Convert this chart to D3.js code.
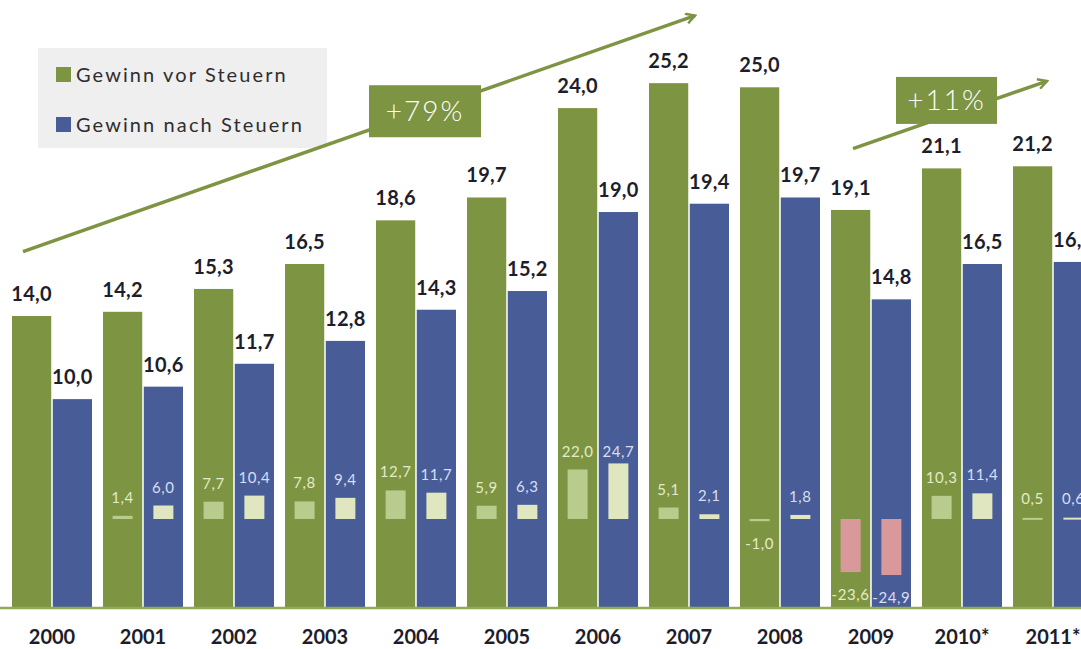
<!DOCTYPE html>
<html>
<head>
<meta charset="utf-8">
<script src="https://cdn.jsdelivr.net/npm/d3@7"></script>
<style>
  body { margin: 0; background: #fff; }
  text { font-family: Lato, "Open Sans", sans-serif; }
  .value { font-weight: 700; font-size: 20px; fill: #1d1d2b; letter-spacing: 0.3px; }
  .year { font-weight: 700; font-size: 20px; fill: #1d1d2b; }
  .change { font-size: 15px; letter-spacing: 0.6px; }
  .legend { font-size: 20px; fill: #2e2e2e; letter-spacing: 2.1px; }
  .badge { font-size: 28px; fill: #fff; letter-spacing: 2px; font-weight: 300; }
</style>
</head>
<body>
<div id="chart"></div>
<script>
// data
const years = ["2000", "2001", "2002", "2003", "2004", "2005", "2006", "2007", "2008", "2009", "2010*", "2011*"];
const vorSteuern = [14.0, 14.2, 15.3, 16.5, 18.6, 19.7, 24.0, 25.2, 25.0, 19.1, 21.1, 21.2];
const nachSteuern = [10.0, 10.6, 11.7, 12.8, 14.3, 15.2, 19.0, 19.4, 19.7, 14.8, 16.5, 16.6];
// change vs. previous year in %
const vorChange = [null, 1.4, 7.7, 7.8, 12.7, 5.9, 22.0, 5.1, -1.0, -23.6, 10.3, 0.5];
const nachChange = [null, 6.0, 10.4, 9.4, 11.7, 6.3, 24.7, 2.1, 1.8, -24.9, 11.4, 0.6];
const seriesNames = ["Gewinn vor Steuern", "Gewinn nach Steuern"];

const width = 1081, height = 649;
const colors = {vor: "#7d9443", nach: "#485d98"};
const changeColors = {vor: "#b9cc8e", nach: "#dfe6c0", neg: "#d9999b"};
const changeText = {vor: "#e4ebc6", nach: "#d8def2"};

const de = d3.formatLocale({decimal: ",", thousands: ".", grouping: [3], currency: ["", " €"], minus: "-"});
const fmt = de.format(".1f");

const data = years.map(function(y, i) {
    return {year: y, vor: vorSteuern[i], nach: nachSteuern[i], vorC: vorChange[i], nachC: nachChange[i]};
});

const svg = d3.select("#chart")
    .append("svg")
        .attr("width", width)
        .attr("height", height);

// scales
const x = d3.scaleBand()
    .domain(years)
    .range([12, 1093])
    .paddingInner(11 / 91)
    .paddingOuter(0);
const xs = d3.scaleBand()
    .domain(["vor", "nach"])
    .range([0, x.bandwidth()])
    .paddingInner(3 / 80);
const y = d3.scaleLinear()
    .domain([0, 29.2])
    .range([607, 0]);
// small change bars on their own baseline
const yc = d3.scaleLinear()
    .domain([-40, 40])
    .range([609, 429]);

// legend box
const legend = svg.append("g");
legend.append("rect")
    .attr("x", 38).attr("y", 48)
    .attr("width", 289).attr("height", 100)
    .attr("fill", "#efefef");
const legendItem = legend.selectAll(".item")
    .data(seriesNames)
    .enter()
    .append("g")
        .attr("transform", function(d, i) { return `translate(56, ${67 + i * 50})`; });
legendItem.append("rect")
    .attr("width", 15).attr("height", 15)
    .attr("fill", function(d, i) { return i === 0 ? colors.vor : colors.nach; });
legendItem.append("text")
    .attr("class", "legend")
    .attr("x", 20).attr("y", 15)
    .text(function(d) { return d; });

// main bars
const group = svg.selectAll(".year-group")
    .data(data)
    .enter()
    .append("g")
        .attr("transform", function(d) { return `translate(${x(d.year)}, 0)`; });

["vor", "nach"].forEach(function(key) {
    group.append("rect")
        .attr("x", xs(key))
        .attr("y", function(d) { return y(d[key]); })
        .attr("width", xs.bandwidth())
        .attr("height", function(d) { return y(0) - y(d[key]); })
        .attr("fill", colors[key]);

    group.append("text")
        .attr("class", "value")
        .attr("x", xs(key) + xs.bandwidth() / 2)
        .attr("y", function(d) { return y(d[key]) - 15; })
        .attr("text-anchor", "middle")
        .text(function(d) { return fmt(d[key]); });

    // change bars
    const cw = 20;
    const ck = key + "C";
    const withChange = group.filter(function(d) { return d[ck] !== null; });
    withChange.append("rect")
        .attr("x", xs(key) + (xs.bandwidth() - cw) / 2)
        .attr("y", function(d) { return Math.min(yc(d[ck]), yc(0)); })
        .attr("width", cw)
        .attr("height", function(d) { return Math.max(2, Math.abs(yc(d[ck]) - yc(0))); })
        .attr("fill", function(d) { return d[ck] < -5 ? changeColors.neg : changeColors[key]; });
    withChange.append("text")
        .attr("class", "change")
        .attr("x", xs(key) + xs.bandwidth() / 2)
        .attr("y", function(d) {
            if (d[ck] < 0) return Math.max(yc(d[ck]), yc(0) + 2) + 28;
            return Math.max(Math.min(yc(d[ck]), yc(0) - 2) - 13, 457);
        })
        .attr("text-anchor", "middle")
        .attr("fill", changeText[key])
        .text(function(d) { return fmt(d[ck]); });
});

// x axis
svg.append("line")
    .attr("x1", 0).attr("x2", width)
    .attr("y1", 608).attr("y2", 608)
    .attr("stroke", "#8fab55")
    .attr("stroke-width", 2.5);
svg.append("g")
    .selectAll("text")
    .data(years)
    .enter()
    .append("text")
        .attr("class", "year")
        .attr("x", function(d) { return x(d) + x.bandwidth() / 2; })
        .attr("y", 644)
        .attr("text-anchor", "middle")
    .text(function(d) { return d; });

// trend arrows
svg.append("defs").append("marker")
    .attr("id", "arrow")
    .attr("viewBox", "0 0 12 12")
    .attr("refX", 10).attr("refY", 6)
    .attr("markerWidth", 12).attr("markerHeight", 12)
    .attr("markerUnits", "userSpaceOnUse")
    .attr("orient", "auto")
  .append("path")
    .attr("d", "M1,1 L10,6 L1,11")
    .attr("fill", "none")
    .attr("stroke", colors.vor)
    .attr("stroke-width", 2.5);

function trend(x1, y1, x2, y2, box, label) {
    svg.append("line")
        .attr("x1", x1).attr("y1", y1)
        .attr("x2", x2).attr("y2", y2)
        .attr("stroke", colors.vor)
        .attr("stroke-width", 3.5)
        .attr("marker-end", "url(#arrow)");
    svg.append("rect")
        .attr("x", box.x).attr("y", box.y)
        .attr("width", box.w).attr("height", box.h)
        .attr("fill", colors.vor);
    svg.append("text")
        .attr("class", "badge")
        .attr("x", box.x + box.w / 2)
        .attr("y", box.y + box.h / 2 + 10)
        .attr("text-anchor", "middle")
        .text(label);
}

trend(x("2000") + 11, y(17.1), x("2007") + 46, y(28.45),
    {x: x("2004") - 7, y: y(25.1), w: 112, h: 52}, "+79%");
trend(x("2009") + 22, y(22.05), x("2011*") + 34, y(25.3),
    {x: x("2010*") - 26, y: y(25.5), w: 101, h: 47}, "+11%");
</script>
</body>
</html>
